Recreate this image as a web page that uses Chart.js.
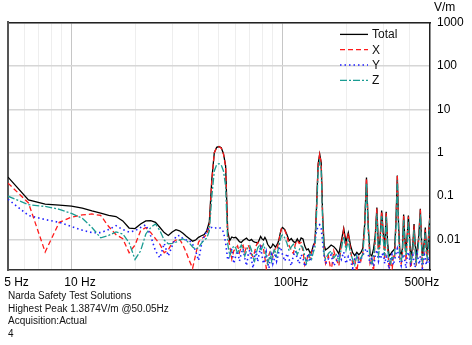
<!DOCTYPE html>
<html>
<head>
<meta charset="utf-8">
<script src="https://cdn.jsdelivr.net/npm/chart.js@4.4.1/dist/chart.umd.min.js"></script>
<style>
  html, body { margin: 0; padding: 0; background: #fff; }
  #wrap { width: 472px; height: 345px; }
</style>
</head>
<body>
<div id="wrap"><canvas id="chart" width="472" height="345"></canvas></div>
<script>
// spectrum sample frequencies (Hz)
const freqHz = [
  5, 6.25, 7.5, 8.75, 10, 11.25, 12.5, 13.75, 15, 16.25,
  17.5, 18.75, 20, 21.25, 22.5, 23.75, 25, 26.25, 27.5, 28.75,
  30, 31.25, 32.5, 33.75, 35, 36.25, 37.5, 38.75, 40, 41.25,
  42.5, 43.75, 45, 46.25, 47.5, 48.75, 50, 51.25, 52.5, 53.75,
  55, 56.25, 57.5, 58.75, 60, 61.25, 62.5, 63.75, 65, 66.25,
  67.5, 68.75, 70, 71.25, 72.5, 73.75, 75, 76.25, 77.5, 78.75,
  80, 81.25, 82.5, 83.75, 85, 86.25, 87.5, 88.75, 90, 91.25,
  92.5, 93.75, 95, 96.25, 97.5, 98.75, 100,
  102.5, 105, 107.5, 110, 112.5, 115, 117.5, 120, 122.5, 125,
  127.5, 130, 132.5, 135, 137.5, 140, 142.5, 145, 147.5, 150,
  152.5, 155, 157.5, 160,
  165, 170, 175, 180, 185, 190, 195, 200, 205, 210,
  215, 220, 225, 230, 235, 240, 245, 250, 255, 260,
  265, 270, 275, 280, 285, 290, 295, 300, 305, 310,
  315, 320, 325, 330, 335, 340, 345, 350, 355, 360,
  365, 370, 375, 380, 385, 390, 395, 400, 405, 410,
  415, 420, 425, 430, 435, 440, 445, 450, 455, 460,
  465, 470, 475, 480, 485, 490, 495, 500
];

// field strength, V/m
const totalVm = [
  0.275, 0.082, 0.066, 0.062, 0.059, 0.053, 0.046, 0.041, 0.036, 0.034,
  0.027, 0.0185, 0.018, 0.023, 0.027, 0.0275, 0.025, 0.019, 0.0145, 0.0125,
  0.015, 0.017, 0.016, 0.014, 0.012, 0.0105, 0.0092, 0.0098, 0.0113, 0.0123,
  0.013, 0.016, 0.026, 0.25, 1.0, 1.33, 1.39, 1.3, 0.95, 0.5,
  0.015, 0.0095, 0.0115, 0.011, 0.0113, 0.0102, 0.009, 0.0086, 0.0095, 0.0102,
  0.0108, 0.0098, 0.0095, 0.0101, 0.0092, 0.0088, 0.0087, 0.0082, 0.0098, 0.0118,
  0.0104, 0.0098, 0.0113, 0.0098, 0.0078, 0.0071, 0.0064, 0.0068, 0.0079, 0.0074,
  0.0067, 0.0074, 0.0083, 0.0102, 0.014, 0.0178, 0.019,
  0.017, 0.013, 0.0095, 0.0106, 0.0091, 0.0085, 0.0104, 0.0086, 0.011, 0.0104,
  0.0071, 0.0058, 0.0061, 0.005, 0.0053, 0.0074, 0.0088, 0.06, 0.55, 0.93,
  0.6, 0.035, 0.0075, 0.0058,
  0.0065, 0.0075, 0.0069, 0.0059, 0.0047, 0.0092, 0.018, 0.0088, 0.0145, 0.0074,
  0.005, 0.0043, 0.0051, 0.0045, 0.005, 0.0062, 0.022, 0.27, 0.02, 0.0046,
  0.0042, 0.0061, 0.012, 0.055, 0.0062, 0.0105, 0.047, 0.015, 0.0063, 0.044,
  0.0082, 0.0042, 0.0046, 0.0052, 0.0056, 0.0062, 0.028, 0.3, 0.02, 0.0052,
  0.0046, 0.0062, 0.038, 0.0105, 0.0062, 0.0125, 0.036, 0.012, 0.0042, 0.0052,
  0.0082, 0.023, 0.0083, 0.0042, 0.0062, 0.0092, 0.02, 0.051, 0.012, 0.0042,
  0.0062, 0.0092, 0.019, 0.0072, 0.0052, 0.0082, 0.02, 0.04
];

const xVm = [
  0.2, 0.07, 0.0052, 0.025, 0.033, 0.037, 0.039, 0.036, 0.02, 0.013,
  0.0105, 0.005, 0.0075, 0.016, 0.019, 0.0145, 0.0105, 0.0078, 0.005, 0.0058,
  0.0085, 0.0098, 0.0104, 0.0075, 0.005, 0.0032, 0.0022, 0.0045, 0.0088, 0.0105,
  0.0115, 0.013, 0.02, 0.24, 1.0, 1.32, 1.38, 1.28, 0.93, 0.48,
  0.012, 0.0072, 0.0036, 0.0055, 0.0062, 0.0072, 0.005, 0.0068, 0.0074, 0.0052,
  0.0068, 0.0074, 0.0062, 0.0045, 0.004, 0.0052, 0.0072, 0.0085, 0.0088, 0.0068,
  0.0073, 0.0062, 0.0038, 0.0022, 0.0031, 0.0045, 0.0055, 0.0052, 0.004, 0.0055,
  0.0062, 0.0058, 0.0072, 0.0098, 0.0135, 0.0175, 0.0185,
  0.0165, 0.012, 0.0072, 0.0058, 0.0048, 0.0078, 0.0095, 0.0082, 0.0085, 0.0055,
  0.0026, 0.0032, 0.0048, 0.0038, 0.0052, 0.0068, 0.0082, 0.055, 0.53, 0.92,
  0.58, 0.03, 0.005, 0.0028,
  0.0042, 0.0018, 0.0055, 0.0035, 0.0025, 0.0078, 0.017, 0.0065, 0.014, 0.0058,
  0.0028, 0.0035, 0.0018, 0.0042, 0.0032, 0.0048, 0.02, 0.26, 0.018, 0.0028,
  0.0035, 0.0018, 0.011, 0.052, 0.0045, 0.0088, 0.045, 0.0125, 0.0035, 0.042,
  0.006, 0.0022, 0.0035, 0.0017, 0.0042, 0.0038, 0.026, 0.29, 0.018, 0.0035,
  0.0028, 0.0045, 0.035, 0.0085, 0.0032, 0.011, 0.034, 0.0095, 0.0018, 0.0035,
  0.0065, 0.021, 0.0062, 0.0025, 0.0045, 0.0072, 0.018, 0.049, 0.0095, 0.0022,
  0.0042, 0.0075, 0.017, 0.0052, 0.0032, 0.0065, 0.018, 0.038
];

const yVm = [
  0.085, 0.036, 0.029, 0.025, 0.02, 0.0165, 0.0145, 0.0145, 0.017, 0.021,
  0.017, 0.015, 0.016, 0.019, 0.022, 0.012, 0.0055, 0.0038, 0.0082, 0.0042,
  0.0072, 0.012, 0.0125, 0.0105, 0.0098, 0.0095, 0.0078, 0.0055, 0.0033, 0.0075,
  0.012, 0.0155, 0.019, 0.019, 0.018, 0.019, 0.019, 0.018, 0.015, 0.0085,
  0.0034, 0.0045, 0.0062, 0.0028, 0.0042, 0.0055, 0.0032, 0.0048, 0.0062, 0.0038,
  0.0025, 0.0045, 0.0058, 0.0035, 0.0022, 0.0042, 0.0055, 0.0031, 0.0048, 0.0065,
  0.0042, 0.0028, 0.0036, 0.0052, 0.0031, 0.0022, 0.0038, 0.0046, 0.0028, 0.0035,
  0.0048, 0.0032, 0.0041, 0.0055, 0.0068, 0.0058, 0.0045,
  0.0032, 0.0048, 0.0035, 0.0025, 0.0042, 0.0055, 0.0036, 0.0028, 0.0045, 0.0038,
  0.0024, 0.0035, 0.0048, 0.0031, 0.0042, 0.0065, 0.0095, 0.016, 0.02, 0.022,
  0.018, 0.0085, 0.0042, 0.0028,
  0.0036, 0.0045, 0.0025, 0.0032, 0.0048, 0.0035, 0.0052, 0.0028, 0.0041, 0.0033,
  0.0022, 0.0038, 0.0046, 0.0027, 0.0035, 0.0042, 0.0055, 0.0062, 0.0045, 0.0028,
  0.0036, 0.0024, 0.0042, 0.0058, 0.0032, 0.0045, 0.0038, 0.0052, 0.0028, 0.0041,
  0.0033, 0.0021, 0.0038, 0.0045, 0.0026, 0.0035, 0.0048, 0.0062, 0.0042, 0.0031,
  0.0025, 0.0038, 0.0046, 0.0033, 0.0022, 0.0041, 0.0052, 0.0036, 0.0028, 0.0037,
  0.0044, 0.0031, 0.0023, 0.0036, 0.0048, 0.0034, 0.0027, 0.0042, 0.0035, 0.0022,
  0.0031, 0.0045, 0.0038, 0.0026, 0.0034, 0.0041, 0.0029, 0.0036
];

const zVm = [
  0.1, 0.064, 0.058, 0.05, 0.04, 0.031, 0.019, 0.011, 0.0125, 0.015,
  0.0135, 0.0085, 0.0035, 0.0055, 0.0135, 0.019, 0.023, 0.016, 0.0098, 0.008,
  0.0082, 0.0087, 0.0098, 0.0104, 0.0095, 0.0082, 0.0068, 0.006, 0.0066, 0.0082,
  0.0098, 0.0108, 0.016, 0.1, 0.38, 0.53, 0.56, 0.52, 0.38, 0.17,
  0.008, 0.0042, 0.0058, 0.0072, 0.0065, 0.0048, 0.0062, 0.0075, 0.0058, 0.0042,
  0.0055, 0.0068, 0.0072, 0.0058, 0.0038, 0.0032, 0.0048, 0.0065, 0.0072, 0.0055,
  0.0065, 0.0078, 0.0062, 0.0042, 0.0028, 0.0035, 0.0048, 0.0032, 0.0045, 0.0058,
  0.0052, 0.0042, 0.0055, 0.0072, 0.0098, 0.0122, 0.0128,
  0.011, 0.0082, 0.0055, 0.0068, 0.0078, 0.0062, 0.0045, 0.0058, 0.0072, 0.0065,
  0.0042, 0.0028, 0.0035, 0.0048, 0.0036, 0.0052, 0.0065, 0.04, 0.4, 0.62,
  0.4, 0.024, 0.0045, 0.0036,
  0.0048, 0.0055, 0.0038, 0.0045, 0.0032, 0.0062, 0.012, 0.0058, 0.0095, 0.0048,
  0.0035, 0.0026, 0.0042, 0.0032, 0.0038, 0.0045, 0.016, 0.2, 0.015, 0.0035,
  0.0028, 0.0042, 0.0085, 0.04, 0.0045, 0.0075, 0.035, 0.011, 0.0042, 0.034,
  0.0058, 0.0032, 0.0028, 0.0042, 0.0038, 0.0045, 0.021, 0.23, 0.015, 0.0038,
  0.0032, 0.0045, 0.028, 0.0075, 0.0042, 0.0088, 0.027, 0.0085, 0.0028, 0.0038,
  0.0058, 0.017, 0.0062, 0.0031, 0.0045, 0.0068, 0.015, 0.038, 0.0085, 0.0032,
  0.0045, 0.0068, 0.014, 0.0052, 0.0038, 0.0062, 0.015, 0.03
];

const xTickValues = [5, 10, 100, 500];
const xTickLabels = ['5 Hz', '10 Hz', '100Hz', '500Hz'];
const xMinorGrid = [6, 7, 8, 9, 20, 30, 40, 50, 60, 70, 80, 90, 200, 300, 400];
const yTickValues = [0.01, 0.1, 1, 10, 100, 1000];
const yTickLabels = ['0.01', '0.1', '1', '10', '100', '1000'];
const unitLabel = 'V/m';
const infoLines = [
  'Narda Safety Test Solutions',
  'Highest Peak 1.3874V/m @50.05Hz',
  'Acquisition:Actual',
  '4',
];

const FONT = 'Arial, "Liberation Sans", sans-serif';

function series(values) {
  return freqHz.map((f, i) => ({ x: f, y: values[i] }));
}

// legend drawn inside the plot, top right, as a stacked list
const insideLegend = {
  id: 'insideLegend',
  afterDraw(chart) {
    const { ctx, chartArea } = chart;
    ctx.save();
    ctx.font = '12px ' + FONT;
    ctx.textBaseline = 'middle';
    chart.data.datasets.forEach((ds, i) => {
      const y = chartArea.top + 12 + i * 15.3;
      const x0 = chartArea.right - 90;
      ctx.beginPath();
      ctx.setLineDash(ds.borderDash || []);
      ctx.strokeStyle = ds.borderColor;
      ctx.lineWidth = ds.borderWidth;
      ctx.moveTo(x0, y);
      ctx.lineTo(x0 + 28, y);
      ctx.stroke();
      ctx.setLineDash([]);
      ctx.fillStyle = '#111';
      ctx.fillText(ds.label, x0 + 32, y + 0.5);
    });
    ctx.restore();
  },
};

const common = { pointRadius: 0, tension: 0, fill: false, xAxisID: 'x', yAxisID: 'y' };

new Chart(document.getElementById('chart'), {
  type: 'line',
  data: {
    datasets: [
      { ...common, label: 'Total', data: series(totalVm), borderColor: '#000000', borderWidth: 1.3, order: 4 },
      { ...common, label: 'X', data: series(xVm), borderColor: '#ff1a1a', borderWidth: 1.3, borderDash: [5, 3], order: 3 },
      { ...common, label: 'Y', data: series(yVm), borderColor: '#1f1fff', borderWidth: 1.6, borderDash: [1.5, 3], order: 2 },
      { ...common, label: 'Z', data: series(zVm), borderColor: '#1a9c92', borderWidth: 1.3, borderDash: [7, 2, 2, 2], order: 1 },
    ],
  },
  options: {
    responsive: false,
    animation: false,
    devicePixelRatio: 1,
    layout: { padding: { left: 8, right: 0, top: 0, bottom: 0 } },
    plugins: {
      legend: { display: false },
      tooltip: { enabled: false },
      title: {
        // unit sits a little in from the right edge
        display: true, text: unitLabel + ' '.repeat(5), align: 'end', color: '#000',
        font: { size: 12, weight: 'normal', family: FONT },
        padding: { top: 0, bottom: 8 },
      },
      subtitle: {
        display: true, position: 'bottom', align: 'start', text: infoLines, color: '#111',
        font: { size: 10, family: FONT, lineHeight: 1.25 },
        padding: { top: 0, bottom: 5 },
      },
    },
    scales: {
      x: {
        type: 'logarithmic', position: 'bottom', min: 5, max: 500,
        afterBuildTicks: (s) => {
          s.ticks = [...xTickValues, ...xMinorGrid].sort((a, b) => a - b).map(v => ({ value: v }));
        },
        afterFit: (s) => { s.height = 20; s.paddingLeft = 0; s.paddingRight = 0; },
        ticks: {
          autoSkip: false, maxRotation: 0, minRotation: 0, padding: 5, labelOffset: 8.5,
          color: '#000', font: { size: 12, family: FONT },
          callback: (v) => {
            const k = xTickValues.indexOf(v);
            if (k < 0) return '';
            // last label sits inside the right edge
            return k === xTickValues.length - 1 ? xTickLabels[k] + ' '.repeat(10) : xTickLabels[k];
          },
        },
        grid: {
          drawTicks: false, lineWidth: 1,
          color: (c) => {
            const v = c.tick && c.tick.value;
            if (v === 10 || v === 100) return '#c6c6c6';
            if (v === 5 || v === 500) return 'rgba(0,0,0,0)';
            return '#eeeeee';
          },
        },
        border: { color: '#333', width: 1.5 },
      },
      y: {
        type: 'logarithmic', position: 'right', min: 0.002, max: 1000,
        afterBuildTicks: (s) => { s.ticks = yTickValues.map(v => ({ value: v })); },
        afterFit: (s) => { s.width = 42; s.paddingTop = 0; s.paddingBottom = 0; },
        ticks: {
          padding: 7, color: '#000', font: { size: 12, family: FONT },
          callback: (v) => { const k = yTickValues.indexOf(v); return k < 0 ? '' : yTickLabels[k]; },
        },
        grid: { drawTicks: false, color: '#d6d6d6', lineWidth: 1.5 },
        border: { color: '#222', width: 1.5 },
      },
      frameTop: {
        axis: 'x', type: 'linear', position: 'top', min: 0, max: 1,
        ticks: { display: false }, grid: { display: false, drawTicks: false },
        border: { color: '#222', width: 1.5 },
        afterFit: (s) => { s.height = 0; },
      },
      frameLeft: {
        axis: 'y', type: 'linear', position: 'left', min: 0, max: 1,
        ticks: { display: false }, grid: { display: false, drawTicks: false },
        border: { color: '#555', width: 2 },
        afterFit: (s) => { s.width = 0; },
      },
    },
  },
  plugins: [insideLegend],
});
</script>
</body>
</html>
